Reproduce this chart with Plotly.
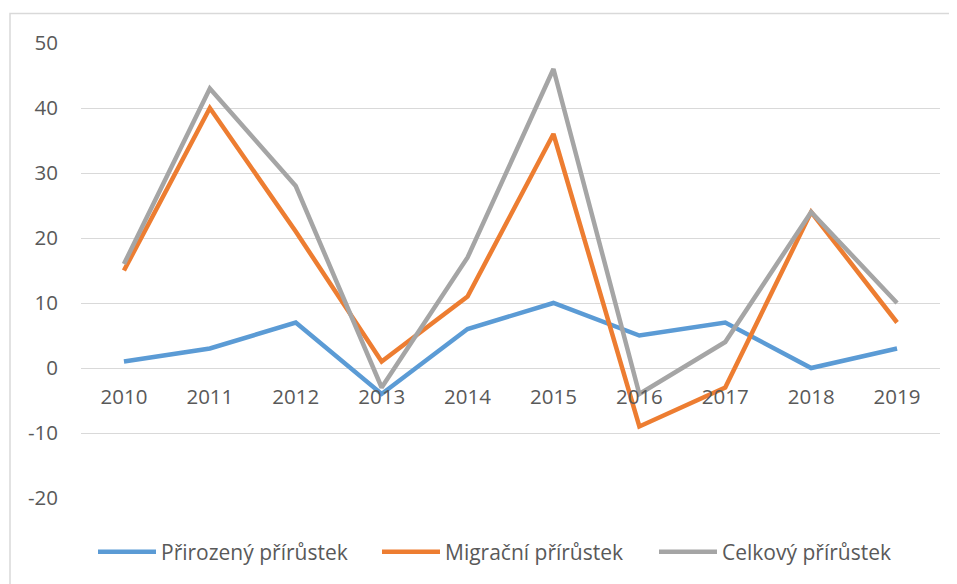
import plotly.graph_objects as go

years = ["2010", "2011", "2012", "2013", "2014", "2015", "2016", "2017", "2018", "2019"]
prirozeny = [1, 3, 7, -4, 6, 10, 5, 7, 0, 3]
migracni = [15, 40, 21, 1, 11, 36, -9, -3, 24, 7]
celkovy = [16, 43, 28, -3, 17, 46, -4, 4, 24, 10]
ytick_vals = [-20, -10, 0, 10, 20, 30, 40, 50]
ytick_text = ["-20", "-10", "0", "10", "20", "30", "40", "50"]

names = ["Přirozený přírůstek", "Migrační přírůstek", "Celkový přírůstek"]
colors = ["#5B9BD5", "#ED7D31", "#A5A5A5"]

# page body has an 8px default margin; compensate so the plot lands where wanted
OFF = 8
W, H = 957, 584
PL, PR, PT, PB = 81, 940, 43, 498          # desired plot box in screen pixels
L = PL - OFF
T = PT - OFF
pw, ph = PR - PL, PB - PT
R = W - L - pw
B = H - T - ph

def px_x(sx):
    return (sx - PL) / pw

def px_y(sy):
    return (PB - sy) / ph

fig = go.Figure()
legends = ["legend", "legend2", "legend3"]
for name, vals, c, lg in zip(names, [prirozeny, migracni, celkovy], colors, legends):
    fig.add_trace(go.Scatter(x=years, y=vals, name=name, mode="lines",
                             line=dict(color=c, width=4.5), legend=lg))

font = dict(family="Open Sans, Liberation Sans, sans-serif", size=20.5, color="#595959")
lfont = dict(family="Open Sans, Liberation Sans, sans-serif", size=21, color="#595959")

ymin, ymax = -20, 50
line_starts = [99, 383, 660]

def leg(sx):
    return dict(orientation="h", x=px_x(sx - 6), xanchor="left",
                y=px_y(552), yanchor="middle", font=lfont, itemwidth=58,
                bgcolor="rgba(0,0,0,0)")

fig.update_layout(
    width=W, height=H,
    margin=dict(l=L, r=R, t=T, b=B, autoexpand=False),
    paper_bgcolor="white", plot_bgcolor="white",
    font=font,
    xaxis=dict(type="category", range=[-0.5, 9.5], showgrid=False, showline=False,
               zeroline=False, ticks="", anchor="free", automargin=False,
               position=(0 - ymin) / (ymax - ymin), ticklabelstandoff=14),
    yaxis=dict(range=[ymin, ymax], tickvals=ytick_vals, ticktext=ytick_text,
               showgrid=True, gridcolor="#D9D9D9", automargin=False,
               gridwidth=1, zeroline=False, showline=False, ticks="",
               ticklabelstandoff=22),
    legend=leg(line_starts[0]),
    legend2=leg(line_starts[1]),
    legend3=leg(line_starts[2]),
    showlegend=True,
)

fig.add_shape(type="rect", xref="paper", yref="paper",
              x0=px_x(10), x1=px_x(990),
              y0=px_y(640), y1=px_y(13.5),
              line=dict(color="#D9D9D9", width=1.5), fillcolor="rgba(0,0,0,0)",
              layer="below")

fig.write_html("out.html")
